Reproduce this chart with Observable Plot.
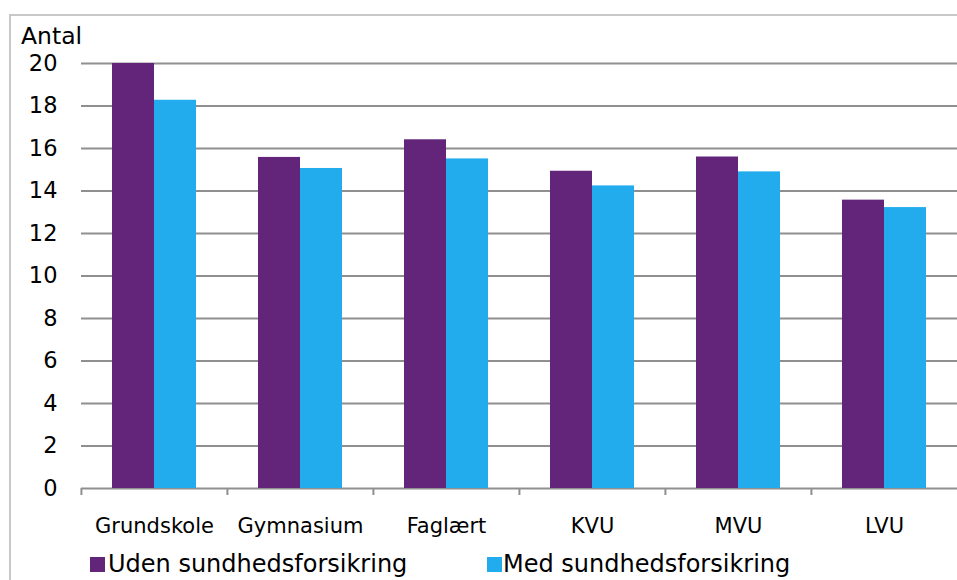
<!DOCTYPE html>
<html>
<head>
<meta charset="utf-8">
<script src="https://cdn.jsdelivr.net/npm/d3@7"></script>
<script src="https://cdn.jsdelivr.net/npm/@observablehq/plot@0.6"></script>
<style>
  html, body { margin: 0; padding: 0; background: #fff; }
  body { width: 957px; height: 580px; overflow: hidden; position: relative; font-family: "DejaVu Sans", Verdana, sans-serif; color: #000; }
  #frame { position: absolute; left: 9px; top: 14px; width: 2000px; height: 2000px; border-left: 2px solid #c8c8c8; border-top: 2px solid #c8c8c8; }
  #chart { position: absolute; left: 0; top: 0; }
  #ylabel { position: absolute; left: 21px; top: 25px; font-size: 23.5px; line-height: 1; }
  .sw { position: absolute; width: 15px; height: 15px; top: 557px; }
  .lt { position: absolute; top: 552px; font-size: 24px; line-height: 1; white-space: nowrap; }
</style>
</head>
<body>
<div id="frame"></div>
<div id="chart"></div>
<div id="ylabel">Antal</div>
<div id="legend"></div>
<script>
const categories = ["Grundskole", "Gymnasium", "Faglært", "KVU", "MVU", "LVU"];
const series = ["Uden sundhedsforsikring", "Med sundhedsforsikring"];
const udenValues = [20.0, 15.58, 16.41, 14.93, 15.6, 13.57];
const medValues = [18.27, 15.06, 15.51, 14.24, 14.9, 13.22];
const yTicks = [0, 2, 4, 6, 8, 10, 12, 14, 16, 18, 20];
const colors = ["#62257a", "#22acee"];

const table = [];
categories.forEach((c, i) => {
  table.push({category: c, series: series[0], value: udenValues[i]});
  table.push({category: c, series: series[1], value: medValues[i]});
});

const W = 957, ML = 80, MR = 0;
const facetW = (W - ML - MR) / categories.length;
const grey = "#8f8f8f";

const chart = Plot.plot({
  width: W,
  height: 545,
  marginLeft: ML,
  marginRight: MR,
  marginTop: 63,
  marginBottom: 57,
  style: {fontFamily: "DejaVu Sans, Verdana, sans-serif", color: "#000", background: "transparent", overflow: "visible"},
  fx: {domain: categories, padding: 0, label: null},
  x: {domain: series, axis: null, paddingInner: 0, paddingOuter: 0.72},
  y: {domain: [0, 20], axis: null},
  color: {domain: series, range: colors},
  marks: [
    Plot.ruleY(yTicks, {y: d => d, stroke: grey, strokeWidth: 2}),
    Plot.barY(table, {fx: "category", x: "series", y: "value", fill: "series"}),
    Plot.axisY({ticks: yTicks, tickSize: 0, tickPadding: 24, fontSize: 22.5, label: null, fill: "#000"}),
    Plot.axisFx({anchor: "bottom", tickSize: 0, tickPadding: 30, fontSize: 21, label: null, fill: "#000", stroke: "none"}),
    Plot.axisFx({anchor: "bottom", tickSize: 7, dx: -facetW / 2, stroke: grey, strokeWidth: 2, fill: "none", label: null})
  ]
});
document.getElementById("chart").appendChild(chart);

const legend = document.getElementById("legend");
const swLeft = [90, 487];
const txtLeft = [108, 503];
series.forEach((s, i) => {
  const sw = document.createElement("div");
  sw.className = "sw";
  sw.style.left = swLeft[i] + "px";
  sw.style.background = colors[i];
  legend.appendChild(sw);
  const t = document.createElement("div");
  t.className = "lt";
  t.style.left = txtLeft[i] + "px";
  t.textContent = s;
  legend.appendChild(t);
});
</script>
</body>
</html>
